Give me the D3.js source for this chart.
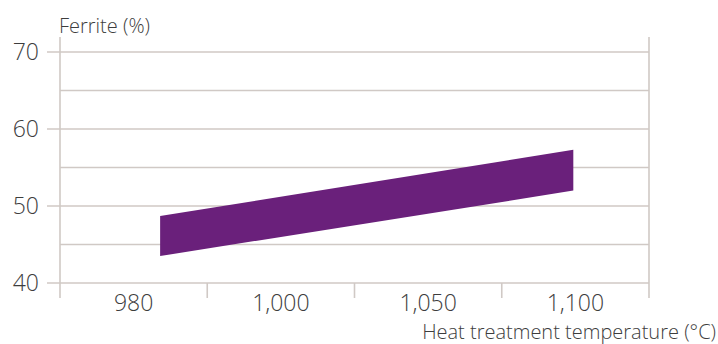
<!DOCTYPE html>
<html><head><meta charset="utf-8">
<script src="https://cdn.jsdelivr.net/npm/d3@7"></script>
<style>
html,body{margin:0;padding:0;background:#fff;}
svg{display:block;}
text{font-family:"Open Sans",sans-serif;font-weight:300;fill:#3d3d3d;}
</style></head>
<body>
<svg id="chart" width="718" height="344"></svg>
<script>
// Data
const categories = ["980", "1,000", "1,050", "1,100"];
const categoryTemps = [980, 1000, 1050, 1100];
const yTicks = [40, 50, 60, 70];
const yGrid = [40, 45, 50, 55, 60, 65, 70];
const bandTemps = [983.6, 1099.3];
const ferriteLow = [43.5, 52.0];
const ferriteHigh = [48.7, 57.3];

(function () {
const svg = d3.select("#chart");
const mLeft = 60, mRight = 649, mTop = 52, mBottom = 283;
const gridColor = "#d0c9c5";

const xBand = d3.scaleBand().domain(categories).range([mLeft, mRight]).padding(0);
const centers = categories.map(c => xBand(c) + xBand.bandwidth() / 2);
const xTemp = d3.scaleLinear().domain(categoryTemps).range(centers);
const y = d3.scaleLinear().domain([40, 70]).range([mBottom, mTop]);

// gridlines
svg.append("g").selectAll("line").data(yGrid).join("line")
  .attr("x1", d => yTicks.includes(d) ? mLeft - 13 : mLeft).attr("x2", mRight)
  .attr("y1", d => y(d)).attr("y2", d => y(d))
  .attr("stroke", gridColor).attr("stroke-width", 1.6);

// vertical lines
[mLeft, mRight].forEach(xv => {
  svg.append("line").attr("x1", xv).attr("x2", xv).attr("y1", 37).attr("y2", 298)
    .attr("stroke", gridColor).attr("stroke-width", 1.6);
});
// band separator ticks
svg.append("g").selectAll("line").data(categories.slice(1)).join("line")
  .attr("x1", d => xBand(d)).attr("x2", d => xBand(d))
  .attr("y1", mBottom).attr("y2", 298)
  .attr("stroke", gridColor).attr("stroke-width", 1.6);

// y labels
svg.append("g").selectAll("text").data(yTicks).join("text")
  .attr("x", 39).attr("y", d => y(d)).attr("dy", "0.36em")
  .attr("text-anchor", "end").style("font-size", "23px").text(d => d);

// x labels
svg.append("g").selectAll("text").data(categories).join("text")
  .attr("x", (d, i) => centers[i]).attr("y", 311)
  .attr("text-anchor", "middle").style("font-size", "23px").text(d => d);

// band
const pts = bandTemps.map((t, i) => ({t, lo: ferriteLow[i], hi: ferriteHigh[i]}));
svg.append("path").datum(pts)
  .attr("d", d3.area().x(d => xTemp(d.t)).y0(d => y(d.lo)).y1(d => y(d.hi)))
  .attr("fill", "#6a207b");

// titles
svg.append("text").attr("x", 59).attr("y", 33).style("font-size", "20px").text("Ferrite (%)");
svg.append("text").attr("x", 716).attr("y", 339).attr("text-anchor", "end")
  .style("font-size", "20px").text("Heat treatment temperature (°C)");
})();
</script>
</body></html>
